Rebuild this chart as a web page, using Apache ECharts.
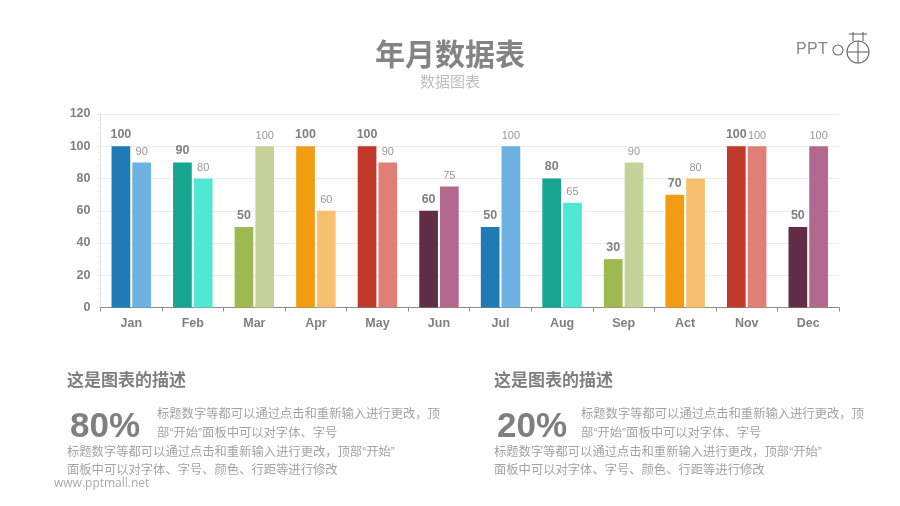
<!DOCTYPE html>
<html>
<head>
<meta charset="utf-8">
<title>年月数据表</title>
<script src="https://cdn.jsdelivr.net/npm/echarts@6/dist/echarts.min.js"></script>
<style>
    html, body { margin: 0; padding: 0; background: #fff; }
    #main { width: 900px; height: 506px; }
</style>
</head>
<body>
<div id="main"></div>
<script>
// data
let months = ['Jan', 'Feb', 'Mar', 'Apr', 'May', 'Jun', 'Jul', 'Aug', 'Sep', 'Act', 'Nov', 'Dec'];
let seriesA = [100, 90, 50, 100, 100, 60, 50, 80, 30, 70, 100, 50];
let seriesB = [90, 80, 100, 60, 90, 75, 100, 65, 90, 80, 100, 100];
let colorsA = ['#1f7ab8', '#16a68f', '#9db950', '#f39c12', '#c0392b', '#622e47', '#1f7ab8', '#16a68f', '#9db950', '#f39c12', '#c0392b', '#622e47'];
let colorsB = ['#6cb3e3', '#50e8d2', '#c5d39a', '#f7c06f', '#e07f75', '#b3688e', '#6cb3e3', '#50e8d2', '#c5d39a', '#f7c06f', '#e07f75', '#b3688e'];

let cjk = '"Noto Sans CJK SC", sans-serif';
let latin = '"Liberation Sans", Arial, sans-serif';
// 引号用窄字形，其余汉字回退到 Noto
let mixed = '"Liberation Sans", "Noto Sans CJK SC", sans-serif';
let descTitle = '这是图表的描述';
let descLine1 = '标题数字等都可以通过点击和重新输入进行更改，顶';
let descLine2 = '部“开始”面板中可以对字体、字号';
let descLine3 = '标题数字等都可以通过点击和重新输入进行更改，顶部“开始”';
let descLine4 = '面板中可以对字体、字号、颜色、行距等进行修改';

let myChart = echarts.init(document.getElementById('main'), null, { renderer: 'canvas' });

let withColors = function (values, colors) {
    return values.map(function (v, i) {
        return { value: v, itemStyle: { color: colors[i] } };
    });
};

let txt = function (x, y, text, size, color, weight, family, align) {
    return {
        type: 'text', x: x, y: y, silent: true,
        style: {
            text: text, fontSize: size, fill: color, fontWeight: weight || 'normal',
            fontFamily: family || cjk, align: align || 'left', verticalAlign: 'middle'
        }
    };
};

let descBlock = function (x, textX, percent) {
    return [
        txt(x, 380, descTitle, 17, '#7f7f7f', 'bold'),
        txt(x + 3, 427, percent, 35, '#7f7f7f', 'bold', latin),
        txt(textX, 415, descLine1, 12.3, '#a3a3a3', 'normal', mixed),
        txt(textX, 434, descLine2, 12.3, '#a3a3a3', 'normal', mixed),
        txt(x, 453, descLine3, 12.3, '#a3a3a3', 'normal', mixed),
        txt(x, 471, descLine4, 12.3, '#a3a3a3', 'normal', mixed)
    ];
};

// logo
let logoStroke = { stroke: '#666', lineWidth: 1.1, fill: 'none' };
let seg = function (x1, y1, x2, y2) {
    return { type: 'line', silent: true, shape: { x1: x1, y1: y1, x2: x2, y2: y2 }, style: logoStroke };
};
let logo = [
    txt(796, 50, 'P', 16, '#888', 'normal', latin),
    txt(807, 50, 'P', 16, '#888', 'normal', latin),
    txt(818, 50, 'T', 16, '#888', 'normal', latin),
    { type: 'circle', silent: true, shape: { cx: 838, cy: 50, r: 5 }, style: logoStroke },
    { type: 'circle', silent: true, shape: { cx: 858, cy: 52, r: 11 }, style: logoStroke },
    seg(847, 52, 869, 52),
    seg(858, 41, 858, 63),
    seg(849, 34, 867, 34),
    seg(853, 32, 853, 41),
    seg(863, 32, 863, 41)
];

let option = {
    animation: false,
    grid: { left: 100.5, right: 61, top: 114, bottom: 198.5 },
    xAxis: {
        type: 'category',
        data: months,
        axisLine: { lineStyle: { color: '#8c8c8c', width: 1 } },
        axisTick: { show: true, length: 4, lineStyle: { color: '#8c8c8c' } },
        axisLabel: { color: '#808080', fontSize: 12.5, fontWeight: 'bold', fontFamily: latin, margin: 10 }
    },
    yAxis: {
        type: 'value',
        min: 0,
        max: 120,
        interval: 20,
        axisLine: { show: true, lineStyle: { color: '#e2e2e2' } },
        axisTick: { show: true, length: 3, lineStyle: { color: '#e2e2e2' } },
        minorTick: { show: true, splitNumber: 5, length: 3, lineStyle: { color: '#eeeeee' } },
        splitLine: { lineStyle: { color: '#ececec' } },
        axisLabel: { color: '#808080', fontSize: 12.5, fontWeight: 'bold', fontFamily: latin, margin: 10 }
    },
    series: [
        {
            type: 'bar',
            barWidth: 18.7,
            barGap: '11%',
            data: withColors(seriesA, colorsA),
            label: { show: true, position: 'top', distance: 5, color: '#7f7f7f', fontSize: 12.5, fontWeight: 'bold', fontFamily: latin }
        },
        {
            type: 'bar',
            barWidth: 18.7,
            data: withColors(seriesB, colorsB),
            label: { show: true, position: 'top', distance: 5, color: '#999999', fontSize: 11, fontFamily: latin }
        }
    ],
    graphic: [
        txt(450, 54, '年月数据表', 30, '#848484', 'bold', cjk, 'center'),
        txt(450, 81, '数据图表', 15, '#bdbdbd', 'normal', cjk, 'center'),
        txt(54, 484, 'www.pptmall.net', 12, '#ababab', 'normal', '"Open Sans", sans-serif')
    ].concat(descBlock(67, 157, '80%'), descBlock(494, 581, '20%'), logo)
};

myChart.setOption(option);
</script>
</body>
</html>
